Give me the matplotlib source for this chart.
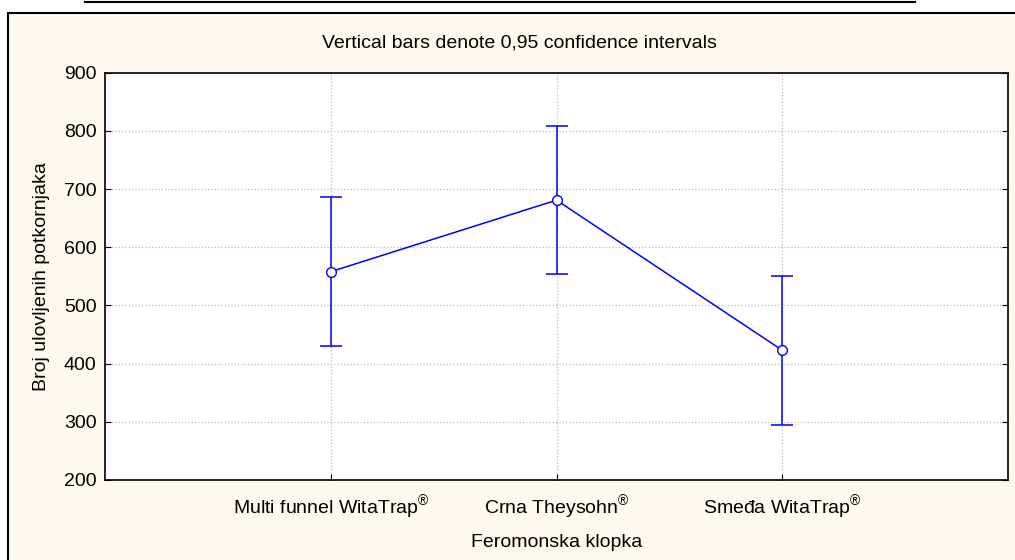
import matplotlib.pyplot as plt
from matplotlib.patches import Rectangle
from matplotlib.lines import Line2D

plt.rcParams['font.family'] = ['Liberation Sans', 'DejaVu Sans']
plt.rcParams['mathtext.fontset'] = 'custom'
plt.rcParams['mathtext.rm'] = 'Liberation Sans'

# podaci
klopke = ['Multi funnel WitaTrap$^{®}$', 'Crna Theysohn$^{®}$', 'Smeđa WitaTrap$^{®}$']
srednje = [558, 681, 423]
ci95 = [128, 127, 128]
y_ticks = [200, 300, 400, 500, 600, 700, 800, 900]

W, H = 1015, 560
fig = plt.figure(figsize=(W / 100, H / 100), dpi=100, facecolor='white')

# okvir (pozadina)
fig.patches.append(Rectangle((8 / W, -0.1), 1.2, (H - 13) / H + 0.1, transform=fig.transFigure,
                             facecolor='#FEF9EF', edgecolor='black', linewidth=1.5, zorder=-5))
fig.lines.append(Line2D([85 / W, 915 / W], [1 - 1.5 / H, 1 - 1.5 / H], transform=fig.transFigure,
                        color='black', linewidth=1.5))

ax = fig.add_axes([105 / W, 1 - 480 / H, (1008 - 105) / W, (480 - 72.7) / H])
ax.set_facecolor('white')

x = [1, 2, 3]
ax.errorbar(x, srednje, yerr=ci95, color='#0000FF', linewidth=1.1, elinewidth=1.1,
            capsize=8, capthick=1.1, marker='o', markersize=7,
            markerfacecolor='white', markeredgecolor='#0000FF', zorder=3)

ax.set_xlim(0, 4)
ax.set_ylim(200, 900)
ax.set_yticks(y_ticks)
ax.set_xticks(x)
ax.set_xticklabels(klopke, fontsize=14)
ax.tick_params(axis='y', labelsize=14, direction='in', length=4, right=True, pad=6)
ax.tick_params(axis='x', direction='in', length=4, pad=10)
ax.grid(True, color='#BBBBBB', linestyle=':', linewidth=0.9)
for s in ax.spines.values():
    s.set_linewidth(1.2)

fig.text(519 / W, 1 - 43 / H, 'Vertical bars denote 0,95 confidence intervals',
         fontsize=14, ha='center', va='center')
ax.set_xlabel('Feromonska klopka', fontsize=14, labelpad=8)
ax.set_ylabel('Broj ulovljenih potkornjaka', fontsize=14, labelpad=10)

fig.savefig('out.png', dpi=100, facecolor=fig.get_facecolor())
